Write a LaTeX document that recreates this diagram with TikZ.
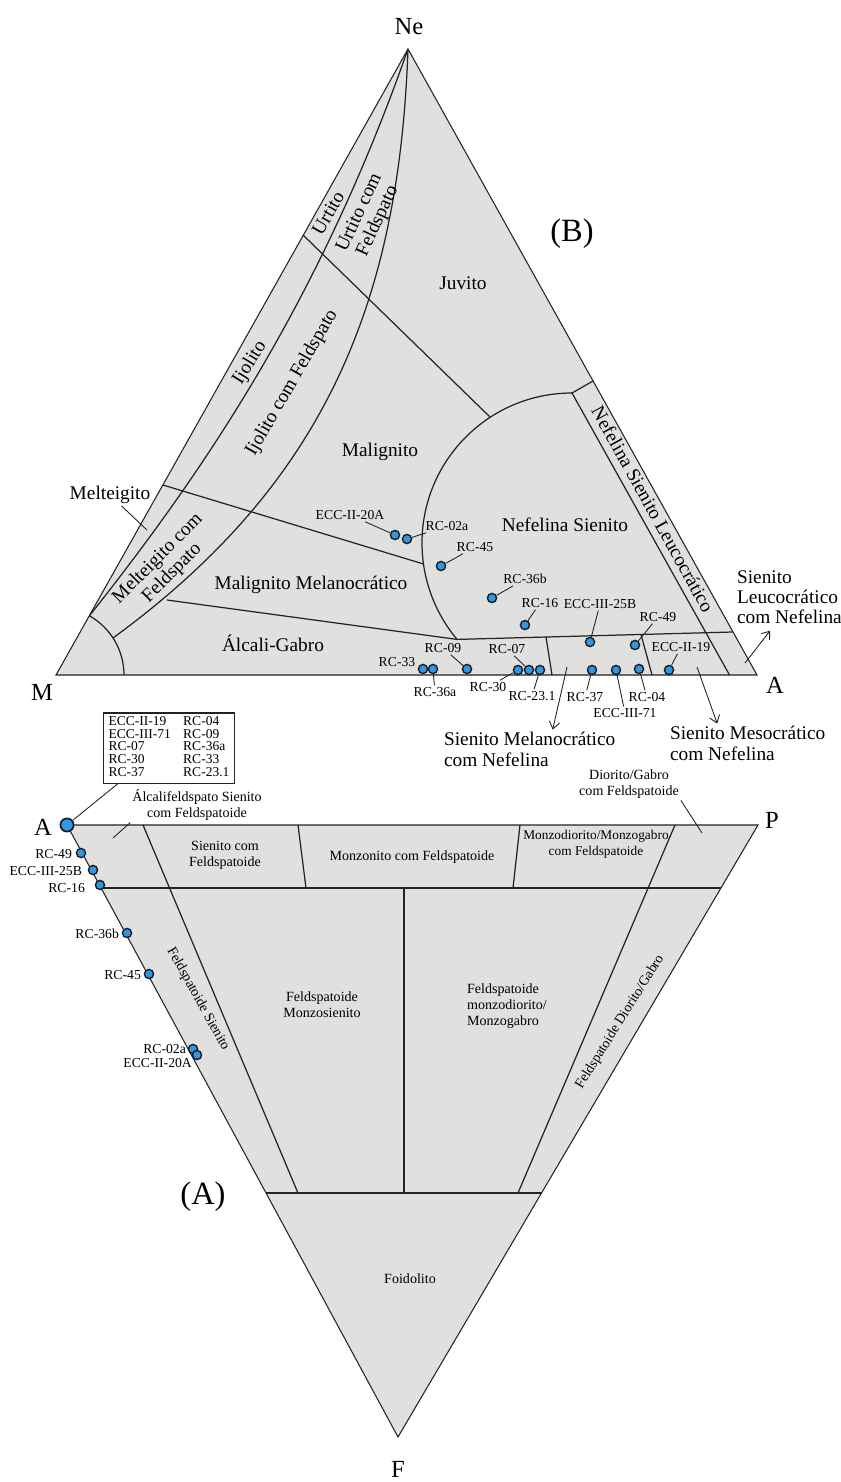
\documentclass[tikz,border=0pt]{standalone}
\usepackage{fontspec}
\setmainfont{Liberation Serif}
\usetikzlibrary{arrows.meta}

\definecolor{fieldGray}{RGB}{224,224,222}
\definecolor{lineGray}{RGB}{35,35,35}
\definecolor{dotBlue}{RGB}{52,150,220}
\definecolor{dotEdge}{RGB}{20,30,45}

\begin{document}
\begin{tikzpicture}[
        x=0.02cm, y=-0.02cm,
        boundary/.style={draw=lineGray, line width=0.7pt},
        outline/.style={draw=lineGray, line width=0.6pt, line join=miter},
        vertexLabel/.style={font=\fontsize{14}{16}\selectfont, inner sep=1pt},
        panelLabel/.style={font=\fontsize{18.5}{20}\selectfont, inner sep=1pt},
        fieldLabel/.style={font=\fontsize{11}{11.5}\selectfont, align=center, inner sep=1pt},
        sideLabel/.style={font=\fontsize{11}{12}\selectfont, align=left, anchor=west, inner sep=1pt},
        smallField/.style={font=\fontsize{8}{9}\selectfont, align=center, inner sep=1pt},
        sampleDot/.style={circle, draw=dotEdge, fill=dotBlue, line width=0.8pt, inner sep=0pt, minimum size=5.2pt},
        bigDot/.style={circle, draw=dotEdge, fill=dotBlue, line width=1pt, inner sep=0pt, minimum size=7.5pt},
        sampleLabel/.style={font=\fontsize{7.8}{8}\selectfont, inner sep=1pt},
        leaderLine/.style={draw=lineGray, line width=0.5pt},
        arrow/.style={draw=lineGray, line width=0.5pt, -{Straight Barb[length=4pt, width=6pt]}}
    ]
    \useasboundingbox (0,0) rectangle (840,1482);

    % Diagram (B): Ne - A - M
    \coordinate (Ne) at (408,49);
    \coordinate (M) at (56,675);
    \coordinate (Atop) at (757,675);
    \fill[fieldGray] (M) -- (Atop) -- (Ne) -- cycle;

    % Field boundaries
    \draw[boundary] (Ne) .. controls (320,300) and (205,470) .. (89.4,615.8);
    \draw[boundary] (Ne) .. controls (399,308) and (321,486) .. (113,638);
    \draw[boundary] (124,675) arc[start angle=0, end angle=-60.6, radius=68];
    \draw[boundary] (303,235) -- (490,417);
    \draw[boundary] (163,485) -- (423.5,564);
    \draw[boundary] (167,600) -- (457,639.4);
    \draw[boundary] (572,393) arc[start angle=-90, end angle=-220, radius=150];
    \draw[boundary] (457,639.4) -- (732.5,632);
    \draw[boundary] (593,381) -- (572,393) -- (729.5,675);
    \draw[boundary] (546,637) -- (552,675);
    \draw[boundary] (641,634.5) -- (652,675);
    \draw[outline] (M) -- (Atop) -- (Ne) -- cycle;

    % Field names
    \node (neLbl) [vertexLabel] at (409,27) {Ne};
    \node (mLbl) [vertexLabel] at (42,692) {M};
    \node (aTopLbl) [vertexLabel] at (775,685) {A};
    \node (panelB) [panelLabel] at (572,234) {(B)};
    \node (urtito) [fieldLabel, rotate=60] at (328,213) {Urtito};
    \node (urtitoF) [fieldLabel, rotate=65] at (369,217) {Urtito com\\Feldspato};
    \node (juvito) [fieldLabel] at (463,283) {Juvito};
    \node (ijolito) [fieldLabel, rotate=58] at (250,363) {Ijolito};
    \node (ijolitoF) [fieldLabel, rotate=60] at (292,383) {Ijolito com Feldspato};
    \node (malignito) [fieldLabel] at (380,452) {Malignito};
    \node (melteigito) [fieldLabel] at (110,495) {Melteigito};
    \node (melteigitoF) [fieldLabel, rotate=45] at (165,566) {Melteigito com\\Feldspato};
    \node (malMel) [fieldLabel] at (311,585) {Malignito Melanocrático};
    \node (alcGabro) [fieldLabel] at (273,643) {Álcali-Gabro};
    \node (nefSien) [fieldLabel] at (565,525) {Nefelina Sienito};
    \node (nefLeuco) [fieldLabel, rotate=-61] at (653,509) {Nefelina Sienito Leucocrático};
    \coordinate (meltTip) at (147,530);
    \draw[leaderLine] (melteigito) -- (meltTip);

    \node (melaLbl) [sideLabel] at (442,749) {Sienito Melanocrático\\com Nefelina};
    \node (mesoLbl) [sideLabel] at (668,743) {Sienito Mesocrático\\com Nefelina};
    \node (leucoLbl) [sideLabel, font=\fontsize{11}{11.3}\selectfont] at (735,597) {Sienito\\Leucocrático\\com Nefelina};
    \coordinate (melaFrom) at (567,667);
    \coordinate (mesoFrom) at (697,667);
    \coordinate (leucoFrom) at (745,663);
    \draw[arrow] (melaFrom) -- ([xshift=63pt]melaLbl.north west);
    \draw[arrow] (mesoFrom) -- ([xshift=28pt]mesoLbl.north west);
    \draw[arrow] (leucoFrom) -- ([xshift=20pt,yshift=-3pt]leucoLbl.south west);

    % Samples in (B)
    \node (d33) [sampleDot] at (423,669) {};
    \node (d36a) [sampleDot] at (433,669) {};
    \node (d09) [sampleDot] at (467,669) {};
    \node (d30) [sampleDot] at (518,670) {};
    \node (d07) [sampleDot] at (529,670) {};
    \node (d231) [sampleDot] at (540,670) {};
    \node (d37) [sampleDot] at (592,670) {};
    \node (dE71) [sampleDot] at (616,670) {};
    \node (d04) [sampleDot] at (639,669) {};
    \node (dE19) [sampleDot] at (669,670) {};
    \node (dE25) [sampleDot] at (590,642) {};
    \node (d49) [sampleDot] at (635,645) {};
    \node (d16) [sampleDot] at (525,625) {};
    \node (d36b) [sampleDot] at (492,598) {};
    \node (d45) [sampleDot] at (441,566) {};
    \node (d02) [sampleDot] at (407,539) {};
    \node (dE20) [sampleDot] at (395,535) {};

    \node (l33) [sampleLabel] at (397,662) {RC-33};
    \node (l36a) [sampleLabel] at (435,692) {RC-36a};
    \node (l09) [sampleLabel] at (443,648) {RC-09};
    \node (l30) [sampleLabel] at (488,687) {RC-30};
    \node (l07) [sampleLabel] at (507,649) {RC-07};
    \node (l231) [sampleLabel] at (532,696) {RC-23.1};
    \node (l37) [sampleLabel] at (585,697) {RC-37};
    \node (lE71) [sampleLabel] at (625,713) {ECC-III-71};
    \node (l04) [sampleLabel] at (647,697) {RC-04};
    \node (lE19) [sampleLabel] at (681,647) {ECC-II-19};
    \node (lE25) [sampleLabel] at (600,604) {ECC-III-25B};
    \node (l49) [sampleLabel] at (658,617) {RC-49};
    \node (l16) [sampleLabel] at (540,603) {RC-16};
    \node (l36b) [sampleLabel] at (525,579) {RC-36b};
    \node (l45) [sampleLabel] at (475,547) {RC-45};
    \node (l02) [sampleLabel] at (447,526) {RC-02a};
    \node (lE20) [sampleLabel] at (350,515) {ECC-II-20A};

    \draw[leaderLine] (d36a) -- (l36a);
    \draw[leaderLine] (d09) -- (l09);
    \draw[leaderLine] (d30) -- (l30);
    \draw[leaderLine] (d07) -- (l07);
    \draw[leaderLine] (d231) -- (l231);
    \draw[leaderLine] (d37) -- (l37);
    \draw[leaderLine] (dE71) -- (lE71);
    \draw[leaderLine] (d04) -- (l04);
    \draw[leaderLine] (dE19) -- (lE19);
    \draw[leaderLine] (dE25) -- (lE25);
    \draw[leaderLine] (d49) -- (l49);
    \draw[leaderLine] (d16) -- (l16);
    \draw[leaderLine] (d36b) -- (l36b);
    \draw[leaderLine] (d45) -- (l45);
    \draw[leaderLine] (d02) -- (l02);
    \draw[leaderLine] (dE20) -- (lE20);

    % Diagram (A): A - P - F
    \coordinate (Alow) at (67,825);
    \coordinate (P) at (758,825);
    \coordinate (F) at (398,1437);
    \fill[fieldGray] (Alow) -- (P) -- (F) -- cycle;
    \draw[boundary] (101,888) -- (721,888);
    \draw[boundary] (266,1193) -- (541.5,1193);
    \draw[boundary] (143,825) -- (298,1193);
    \draw[boundary] (298,825) -- (306,888);
    \draw[boundary] (520,825) -- (513,888);
    \draw[boundary] (675,825) -- (518,1193);
    \draw[boundary] (404,888) -- (404,1193);
    \draw[outline] (Alow) -- (P) -- (F) -- cycle;

    \node (aLowLbl) [vertexLabel] at (43,827) {A};
    \node (pLbl) [vertexLabel] at (772,820) {P};
    \node (fLbl) [vertexLabel] at (398,1469) {F};
    \node (panelA) [panelLabel] at (203,1197) {(A)};
    \node (alkFeld) [smallField] at (197,805) {Álcalifeldspato Sienito\\com Feldspatoide};
    \node (sienF) [smallField] at (225,855) {Sienito com\\Feldspatoide};
    \node (monzF) [smallField] at (412,857) {Monzonito com Feldspatoide};
    \node (monzdF) [smallField, font=\fontsize{7.6}{9}\selectfont] at (596,844) {Monzodiorito/Monzogabro\\com Feldspatoide};
    \node (diorF) [smallField] at (629,784) {Diorito/Gabro\\com Feldspatoide};
    \node (feldSien) [smallField, rotate=-61] at (198,999) {Feldspatoide Sienito};
    \node (feldMonzS) [smallField] at (322,1005) {Feldspatoide\\Monzosienito};
    \node (feldMonzD) [smallField, align=left, anchor=west] at (465,1006) {Feldspatoide\\monzodiorito/\\Monzogabro};
    \node (feldDior) [smallField, rotate=58] at (620,1022) {Feldspatoide Diorito/Gabro};
    \node (foidolito) [smallField] at (410,1279) {Foidolito};
    \coordinate (alkTip) at (113,838);
    \coordinate (diorTip) at (702,833);
    \draw[leaderLine] (alkFeld.south west) -- (alkTip);
    \draw[leaderLine] (diorF.south east) -- (diorTip);

    % Samples in (A)
    \node (bigA) [bigDot] at (67,825) {};
    \node (p49) [sampleDot] at (81,853) {};
    \node (pE25) [sampleDot] at (93,870) {};
    \node (p16) [sampleDot] at (100,885) {};
    \node (p36b) [sampleDot] at (127,933) {};
    \node (p45) [sampleDot] at (149,974) {};
    \node (p02) [sampleDot] at (193,1049) {};
    \node (pE20) [sampleDot] at (197,1055) {};

    \node (q49) [sampleLabel, anchor=east] at (74,854) {RC-49};
    \node (qE25) [sampleLabel, anchor=east] at (84,871) {ECC-III-25B};
    \node (q16) [sampleLabel, anchor=east] at (87,888) {RC-16};
    \node (q36b) [sampleLabel, anchor=east] at (121,934) {RC-36b};
    \node (q45) [sampleLabel, anchor=east] at (143,975) {RC-45};
    \node (q02) [sampleLabel, anchor=east] at (188,1049) {RC-02a};
    \node (qE20) [sampleLabel, anchor=east] at (194,1063) {ECC-II-20A};

    \node (listBox) [draw=lineGray, line width=0.8pt, fill=white, inner xsep=3pt, inner ysep=2pt,
        font=\fontsize{7.7}{7}\selectfont] at (169,748) {%
        \begin{tabular}{@{}l@{\hspace{7pt}}l@{}}
            ECC-II-19 & RC-04\\
            ECC-III-71 & RC-09\\
            RC-07 & RC-36a\\
            RC-30 & RC-33\\
            RC-37 & RC-23.1
        \end{tabular}};
    \draw[leaderLine] ([xshift=8.5pt]listBox.south west) -- (bigA);
\end{tikzpicture}
\end{document}
